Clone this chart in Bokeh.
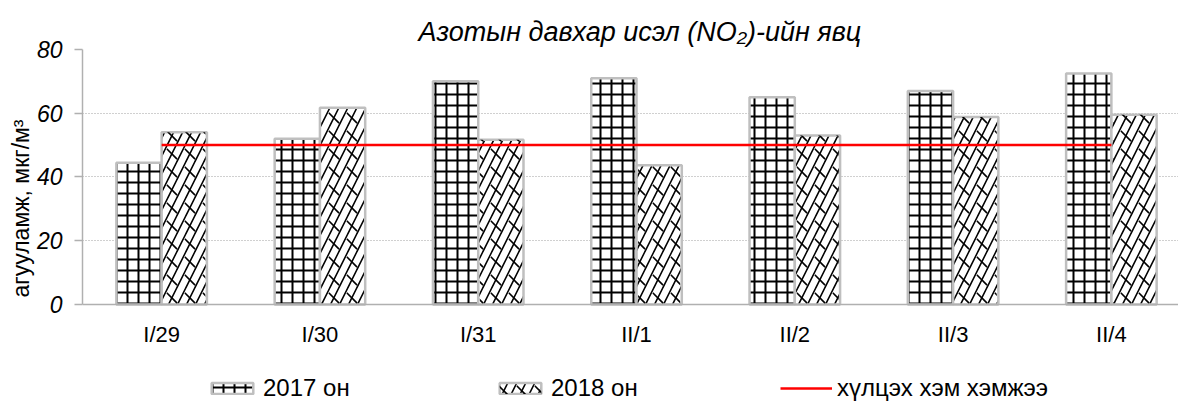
from bokeh.plotting import figure
from bokeh.models import Range1d, FixedTicker, Legend, LegendItem, ColumnDataSource, Title, Span
from bokeh.core.properties import value
from bokeh.embed import file_html
from bokeh.resources import INLINE

categories = ["I/29", "I/30", "I/31", "II/1", "II/2", "II/3", "II/4"]
values_2017 = [44.5, 52, 70, 71, 65, 67, 72.5]
values_2018 = [54, 61.7, 51.7, 43.7, 53, 58.8, 59.5]
limit_values = [50, 50, 50, 50, 50, 50, 50]
y_ticks = [0, 20, 40, 60, 80]
series_labels = ["2017 он", "2018 он", "хүлцэх хэм хэмжээ"]

FONT = "Liberation Sans"
BAR_W = 0.286
LABEL_Y = -9.4

idx = list(range(len(categories)))
src = ColumnDataSource(dict(
    x17=[i - BAR_W / 2 for i in idx],
    x18=[i + BAR_W / 2 for i in idx],
    v17=values_2017,
    v18=values_2018,
    xc=idx,
    lim=limit_values,
    cat=categories,
    ly=[LABEL_Y] * len(idx),
))

p = figure(width=1178, height=402, x_range=Range1d(-0.5, 6.424), y_range=Range1d(-30.75, 80),
           output_backend="svg", toolbar_location=None,
           min_border_left=82, min_border_right=0, min_border_top=49, min_border_bottom=0)
p.outline_line_color = None
p.background_fill_color = "white"
p.xaxis.visible = False

r17 = p.vbar(x="x17", top="v17", width=BAR_W, source=src, fill_color="white",
             line_color="#bfbfbf", line_width=2.5,
             hatch_pattern="+", hatch_scale=11, hatch_weight=2, hatch_color="black")
r18a = p.vbar(x="x18", top="v18", width=BAR_W, source=src, fill_color="white",
              line_color="#bfbfbf", line_width=2.5,
              hatch_pattern="/", hatch_scale=18, hatch_weight=1.6, hatch_color="black")
r18b = p.vbar(x="x18", top="v18", width=BAR_W - 0.02, source=src, fill_alpha=0,
              line_alpha=0, hatch_pattern="`", hatch_scale=18, hatch_weight=1.6, hatch_color="black")
rl = p.line(x="xc", y="lim", source=src, line_color="#ff0000", line_width=2.5)

# x axis line and category labels
p.add_layout(Span(location=0, dimension="width", line_color="#b0b0b0", line_width=1.5))
p.text(x="xc", y="ly", text="cat", source=src, text_font=value(FONT), text_font_size="22px",
       text_align="center", text_baseline="middle", text_color="black")

# y axis
p.yaxis.ticker = FixedTicker(ticks=y_ticks)
p.yaxis.bounds = (0, 80)
p.yaxis.major_label_text_font = FONT
p.yaxis.major_label_text_font_size = "23px"
p.yaxis.major_label_text_font_style = "italic"
p.yaxis.major_label_text_color = "black"
p.yaxis.major_tick_out = 8
p.yaxis.major_tick_in = 0
p.yaxis.minor_tick_line_color = None
p.yaxis.major_label_standoff = 12
p.yaxis.axis_line_color = "#b0b0b0"
p.yaxis.axis_line_width = 1.5
p.yaxis.major_tick_line_color = "#b0b0b0"
p.yaxis.major_tick_line_width = 1.5

ylab = Title(text="агууламж, мкг/м³", align="left", offset=105,
             text_font=FONT, text_font_size="23px", text_font_style="normal",
             text_color="black", standoff=0)
p.add_layout(ylab, "left")

p.xgrid.visible = False
p.ygrid.grid_line_color = "#a0a0a0"
p.ygrid.grid_line_dash = "1 2"
p.ygrid.grid_line_width = 1.2

# title
t = Title(text="Азотын давхар исэл (NO₂)-ийн явц", align="left", offset=336,
          text_font=FONT, text_font_size="27px", text_font_style="italic",
          text_color="black", standoff=6)
p.add_layout(t, "above")

# legends
def mk_legend(label, rends, x):
    lg = Legend(items=[LegendItem(label=label, renderers=rends)], location=(x, 0),
                orientation="horizontal", glyph_width=52, glyph_height=14,
                label_standoff=5, padding=0, margin=0, spacing=0,
                border_line_alpha=0, background_fill_alpha=0,
                label_text_font=FONT, label_text_font_size="24px", label_text_color="black")
    p.add_layout(lg, "center")

mk_legend(series_labels[0], [r17], 124)
mk_legend(series_labels[1], [r18a, r18b], 412)
mk_legend(series_labels[2], [rl], 698)

open("out.html", "w").write(file_html(p, INLINE))
